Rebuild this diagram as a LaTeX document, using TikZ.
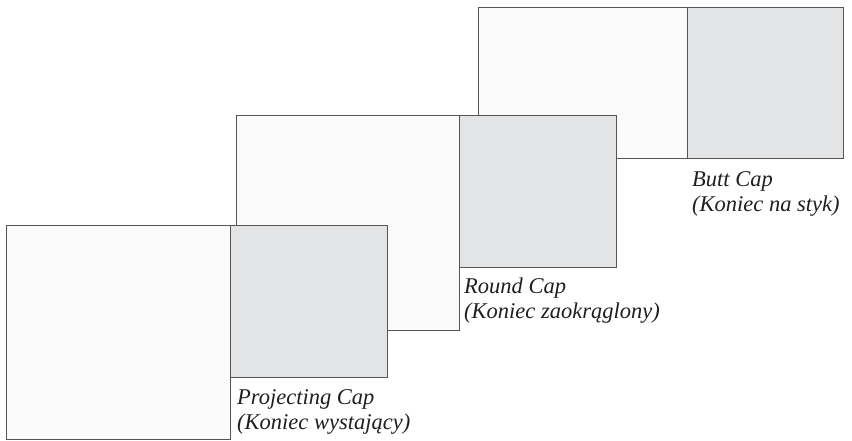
\documentclass[tikz,border=0pt]{standalone}
\usepackage{xcolor}
\usepackage{fontspec}
\setmainfont{Liberation Serif}
\usepackage{tikz}
\usetikzlibrary{positioning}
\definecolor{edge}{HTML}{555555}
\definecolor{paper}{HTML}{FBFBFB}
\definecolor{ink}{HTML}{E3E4E6}
\tikzstyle{stroke} = [draw=edge, line width=1pt, inner sep=0pt, outer sep=0pt, anchor=north west]
\tikzstyle{wide} = [stroke, fill=paper]
\tikzstyle{endbox} = [stroke, fill=ink, minimum width=157pt, minimum height=152pt]
\tikzstyle{caption} = [anchor=north west, align=left, inner sep=0pt,
  font=\fontsize{22.5}{25}\selectfont\itshape, text=black!88]

\begin{document}
\begin{tikzpicture}[x=1pt, y=-1pt]
            \useasboundingbox (0,0) rectangle (852,440);
            % butt cap: the end stops flush with the path
            \node[wide, minimum width=209pt, minimum height=151pt] (buttline) at (478,7) {};
            \node[endbox, minimum height=151pt, minimum width=156pt] (buttend) at (buttline.north east) {};
            \node[caption, below right=13pt and 5pt of buttend.south west] (buttlabel)
                {Butt Cap\\(Koniec na styk)};
            % round cap
            \node[wide, minimum width=223pt, minimum height=215pt] (roundline) at (236,115) {};
            \node[endbox] (roundend) at (roundline.north east) {};
            \node[caption, below right=11pt and 5pt of roundend.south west] (roundlabel)
                {Round Cap\\(Koniec zaokrąglony)};
            % projecting cap
            \node[wide, minimum width=224pt, minimum height=214pt] (projline) at (6,225) {};
            \node[endbox] (projend) at (projline.north east) {};
            \node[caption, below right=12pt and 7pt of projend.south west] (projlabel)
                {Projecting Cap\\(Koniec wystający)};
        \end{tikzpicture}
\end{document}
